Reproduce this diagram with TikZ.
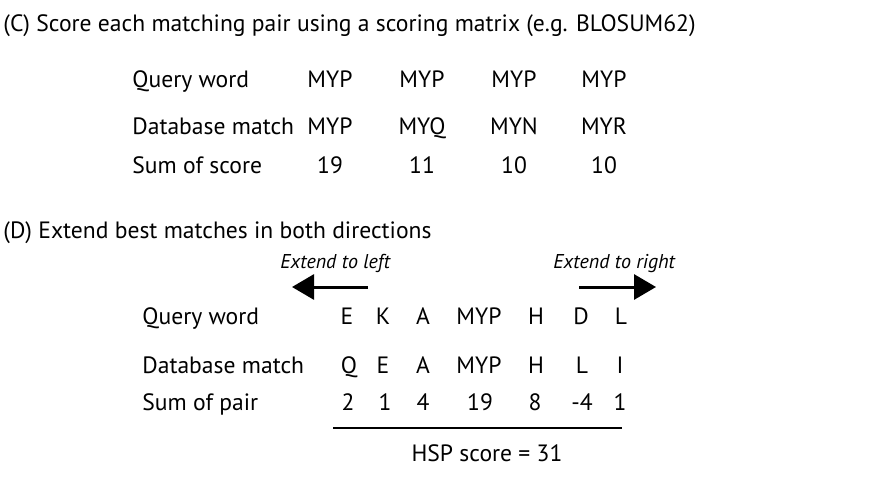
\documentclass[tikz,border=0pt]{standalone}
\usepackage{fontspec}
\setmainfont{PT Sans}
\usetikzlibrary{arrows.meta}
\tikzset{
  txt/.style={inner sep=0pt,font=\fontsize{11.8}{14}\selectfont},
  lbl/.style={txt,anchor=base west},
  seq/.style={txt,anchor=base},
  extend/.style={inner sep=0pt,anchor=base west,font=\fontsize{10}{12}\selectfont\itshape},
  extarrow/.style={line width=1.5pt,-{Triangle[length=11pt,width=12.5pt]}}
}
\begin{document}
\begin{tikzpicture}[x=0.5pt,y=-0.5pt]
\useasboundingbox (0,0) rectangle (871,476);
\node at (3,32) [lbl] (titC) {(C) Score each matching pair using a scoring matrix (e.g. BLOSUM62)};
%
\node at (132,88) [lbl] (cq) {Query word};
\node at (132,134) [lbl] (cd) {Database match};
\node at (132,173) [lbl] (cs) {Sum of score};
%
\node at (330,88) [seq] (cq1) {MYP};
\node at (422,88) [seq] (cq2) {MYP};
\node at (514,88) [seq] (cq3) {MYP};
\node at (604,88) [seq] (cq4) {MYP};
%
\node at (330,134) [seq] (cd1) {MYP};
\node at (422,134) [seq] (cd2) {MYQ};
\node at (514,134) [seq] (cd3) {MYN};
\node at (604,134) [seq] (cd4) {MYR};
%
\node at (330,173) [seq] (cs1) {19};
\node at (422,173) [seq] (cs2) {11};
\node at (514,173) [seq] (cs3) {10};
\node at (604,173) [seq] (cs4) {10};
%
%
\node at (3,238) [lbl] (titD) {(D) Extend best matches in both directions};
\node at (280,268) [extend] (extL) {Extend to left};
\node at (553,268) [extend] (extR) {Extend to right};
\coordinate (lTail) at (368,287);
\coordinate (lTip) at (292,287);
\coordinate (rTail) at (579,287);
\coordinate (rTip) at (656,287);
\draw[extarrow] (lTail) -- (lTip);
\draw[extarrow] (rTail) -- (rTip);
%
\node at (142,324) [lbl] (dq) {Query word};
\node at (142,373) [lbl] (dd) {Database match};
\node at (142,410) [lbl] (ds) {Sum of pair};
%
\node at (347,324) [seq] (dq1) {E};
\node at (383,324) [seq] (dq2) {K};
\node at (423,324) [seq] (dq3) {A};
\node at (479,324) [seq] (dq4) {MYP};
\node at (536,324) [seq] (dq5) {H};
\node at (581,324) [seq] (dq6) {D};
\node at (621,324) [seq] (dq7) {L};
%
\node at (349,373) [seq] (dd1) {Q};
\node at (383,373) [seq] (dd2) {E};
\node at (423,373) [seq] (dd3) {A};
\node at (479,373) [seq] (dd4) {MYP};
\node at (536,373) [seq] (dd5) {H};
\node at (582,373) [seq] (dd6) {L};
\node at (620,373) [seq] (dd7) {I};
%
\node at (348,410) [seq] (ds1) {2};
\node at (385,410) [seq] (ds2) {1};
\node at (423,410) [seq] (ds3) {4};
\node at (480,410) [seq] (ds4) {19};
\node at (535,410) [seq] (ds5) {8};
\node at (582,410) [seq] (ds6) {-4};
\node at (620,410) [seq] (ds7) {1};
%
\coordinate (sumL) at (333,428);
\coordinate (sumR) at (622,428);
\draw[line width=1pt] (sumL) -- (sumR);
\node at (487,461) [seq] (hsp) {HSP score = 31};
\end{tikzpicture}
\end{document}
